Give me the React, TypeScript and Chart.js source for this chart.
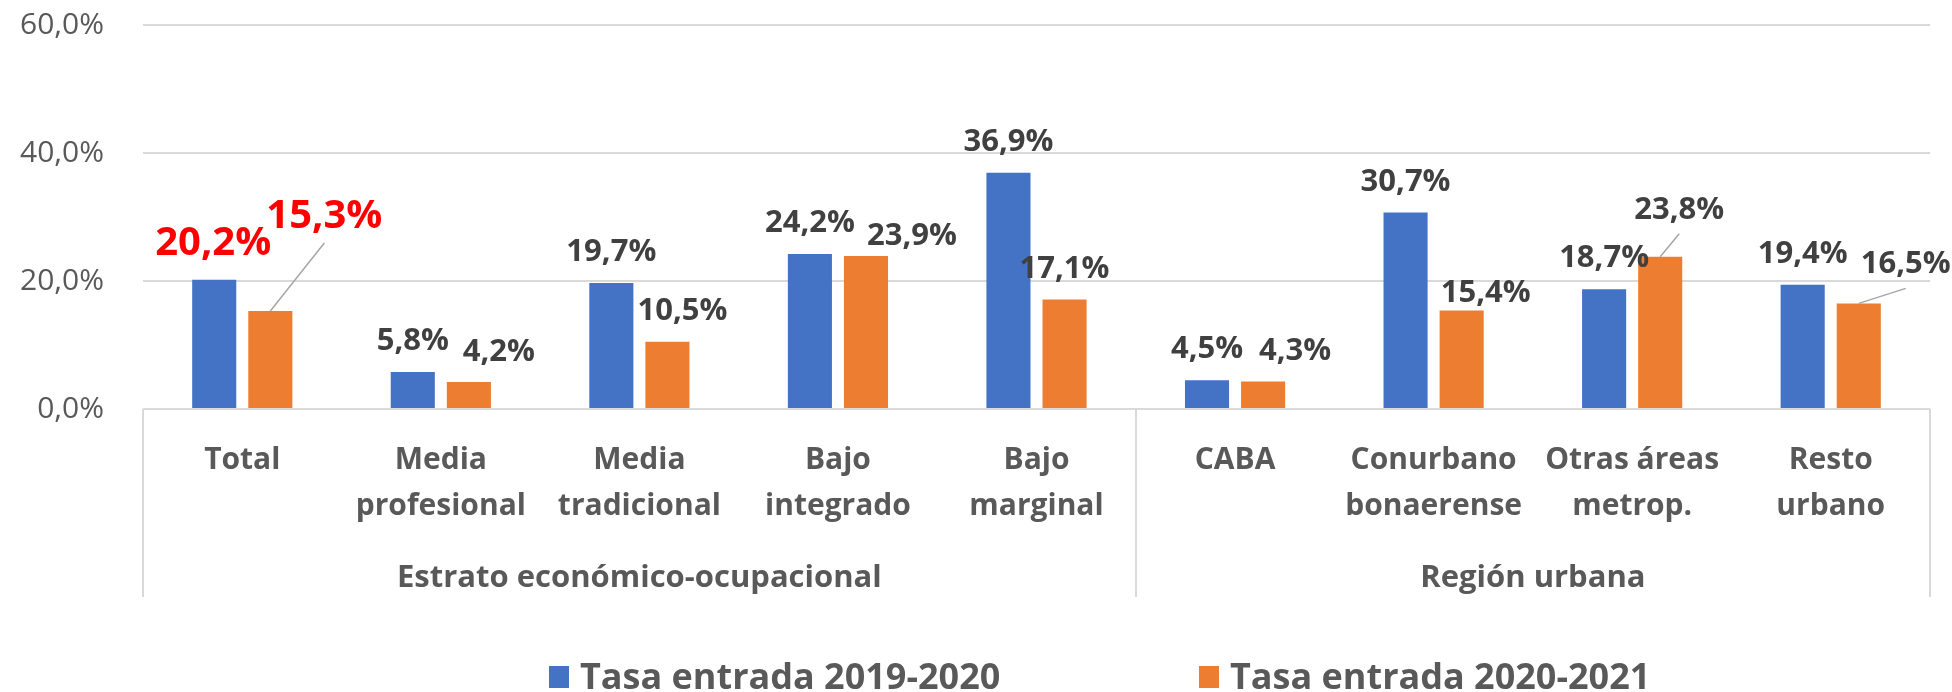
import React, { useEffect, useRef } from "react";
import { Chart, registerables } from "chart.js";

Chart.register(...registerables);

// ---- data ----
const categoryLines: string[][] = [
  ["Total"],
  ["Media", "profesional"],
  ["Media", "tradicional"],
  ["Bajo", "integrado"],
  ["Bajo", "marginal"],
  ["CABA"],
  ["Conurbano", "bonaerense"],
  ["Otras áreas", "metrop."],
  ["Resto", "urbano"],
];
const groupNames = ["Estrato económico-ocupacional", "Región urbana"];
const groupSizes = [5, 4];
const seriesNames = ["Tasa entrada 2019-2020", "Tasa entrada 2020-2021"];
const tasa1920 = [20.2, 5.8, 19.7, 24.2, 36.9, 4.5, 30.7, 18.7, 19.4];
const tasa2021 = [15.3, 4.2, 10.5, 23.9, 17.1, 4.3, 15.4, 23.8, 16.5];
const yTickValues = [0, 20, 40, 60];

// ---- label placement (style) ----
const lblDx1920 = [-1, 0, 0, 0, 0, 0, 0, 0, 0];
const lblLift1920 = [25, 22, 22, 22, 22, 22, 22, 22, 22];
const lblDx2021 = [54, 30, 15, 46, 0, 32, 24, 19, 47];
const lblLift2021 = [83, 21, 22, 11, 22, 21, 8, 38, 30];
const leader2021 = [true, false, false, false, false, false, false, true, true];
const highlightIndex = 0;

const COLORS = ["#4472C4", "#ED7D31"];
const FONT = "'Open Sans', 'DejaVu Sans', sans-serif";
const fmt = (v: number) => v.toFixed(1).replace(".", ",") + "%";

const labelPlugin = {
  id: "customLabels",
  afterDatasetsDraw(chart: any) {
    const ctx = chart.ctx;
    const dxs = [lblDx1920, lblDx2021];
    const lifts = [lblLift1920, lblLift2021];
    ctx.save();
    ctx.textAlign = "center";
    ctx.textBaseline = "alphabetic";
    chart.data.datasets.forEach((ds: any, di: number) => {
      const meta = chart.getDatasetMeta(di);
      meta.data.forEach((bar: any, i: number) => {
        const x = bar.x + dxs[di][i];
        const base = bar.y - lifts[di][i];
        if (di === 1 && leader2021[i]) {
          ctx.strokeStyle = "#A6A6A6";
          ctx.lineWidth = 1.5;
          ctx.beginPath();
          ctx.moveTo(x, base + 15);
          ctx.lineTo(bar.x, bar.y);
          ctx.stroke();
        }
        if (i === highlightIndex) {
          ctx.fillStyle = "#FF0000";
          ctx.font = `bold 40px ${FONT}`;
        } else {
          ctx.fillStyle = "#404040";
          ctx.font = `bold 31px ${FONT}`;
        }
        ctx.fillText(fmt(ds.data[i]), x, base);
      });
    });
    ctx.restore();
  },
  afterDraw(chart: any) {
    const ctx = chart.ctx;
    const area = chart.chartArea;
    const xs = chart.scales.x;
    const n = categoryLines.length;
    const step = (area.right - area.left) / n;
    ctx.save();
    // separators
    ctx.strokeStyle = "#D9D9D9";
    ctx.lineWidth = 2;
    let idx = 0;
    const bounds = [0];
    groupSizes.forEach((g) => {
      idx += g;
      bounds.push(idx);
    });
    bounds.forEach((b) => {
      const x = Math.round(area.left + b * step);
      ctx.beginPath();
      ctx.moveTo(x, area.bottom);
      ctx.lineTo(x, area.bottom + 188);
      ctx.stroke();
    });
    // category labels
    ctx.fillStyle = "#595959";
    ctx.textAlign = "center";
    ctx.textBaseline = "alphabetic";
    ctx.font = `bold 30px ${FONT}`;
    categoryLines.forEach((lines, i) => {
      const cx = xs.getPixelForValue(i);
      lines.forEach((t, li) => {
        ctx.fillText(t, cx, area.bottom + 60 + li * 46);
      });
    });
    // group labels
    ctx.font = `bold 31px ${FONT}`;
    groupNames.forEach((name, gi) => {
      const x0 = area.left + bounds[gi] * step;
      const x1 = area.left + bounds[gi + 1] * step;
      ctx.fillText(name, (x0 + x1) / 2, area.bottom + 178);
    });
    // legend
    ctx.font = `bold 36px ${FONT}`;
    ctx.textAlign = "left";
    const legendX = [549, 1199];
    seriesNames.forEach((name, si) => {
      ctx.fillStyle = COLORS[si];
      ctx.fillRect(legendX[si], 666, 20, 22);
      ctx.fillStyle = "#595959";
      ctx.fillText(name, legendX[si] + 31, 689);
    });
    ctx.restore();
  },
};

export default function App() {
  const ref = useRef<HTMLCanvasElement>(null);
  useEffect(() => {
    document.body.style.margin = "0";
    const canvas = ref.current!;
    const chart = new Chart(canvas, {
      type: "bar",
      data: {
        labels: categoryLines.map((l) => l.join(" ")),
        datasets: [
          {
            label: seriesNames[0],
            data: tasa1920,
            backgroundColor: COLORS[0],
            categoryPercentage: 0.565,
            barPercentage: 0.786,
          },
          {
            label: seriesNames[1],
            data: tasa2021,
            backgroundColor: COLORS[1],
            categoryPercentage: 0.565,
            barPercentage: 0.786,
          },
        ],
      },
      options: {
        responsive: false,
        animation: false,
        devicePixelRatio: 1,
        layout: { padding: { top: 25, right: 22, left: 0, bottom: 283 } },
        plugins: { legend: { display: false }, tooltip: { enabled: false } },
        scales: {
          x: { display: false },
          y: {
            min: 0,
            max: 60,
            afterFit: (s: any) => {
              s.width = 143;
              s.paddingTop = 0;
              s.paddingBottom = 0;
            },
            afterBuildTicks: (s: any) => {
              s.ticks = yTickValues.map((v) => ({ value: v }));
            },
            ticks: {
              padding: 39,
              color: "#595959",
              font: { family: FONT, size: 30 },
              callback: (v: any) => Number(v).toFixed(1).replace(".", ",") + "%",
            },
            grid: { color: "#D9D9D9", lineWidth: 2, drawTicks: false },
            border: { display: false },
          },
        },
      },
      plugins: [labelPlugin],
    });
    const extra = chart.chartArea.top - 25;
    if (Math.abs(extra) > 0.5) {
      (chart.options.layout as any).padding.top = Math.max(0, 25 - extra);
      chart.update();
    }
    return () => chart.destroy();
  }, []);
  return (
    <div style={{ width: 1952, height: 692 }}>
      <canvas ref={ref} width={1952} height={692} style={{ display: "block" }} />
    </div>
  );
}
